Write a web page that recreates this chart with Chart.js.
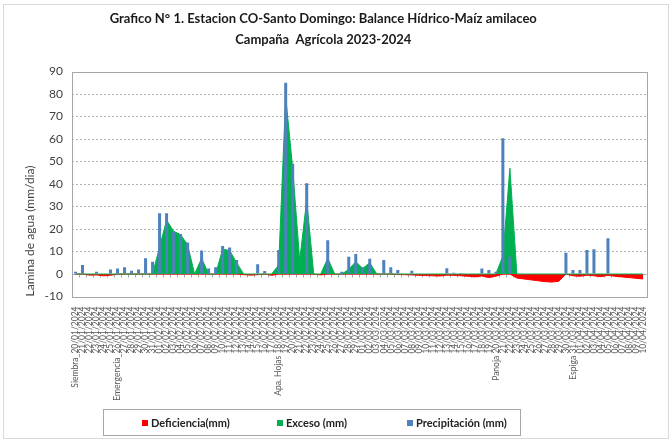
<!DOCTYPE html>
<html>
<head>
<meta charset="utf-8">
<title>Balance Hídrico - Maíz amilaceo</title>
<script src="https://cdn.jsdelivr.net/npm/chart.js@4.4.1/dist/chart.umd.min.js"></script>
<style>
  html, body { margin: 0; padding: 0; background: #fff; }
  #wrap { position: relative; width: 672px; height: 441px; }
  #frame { position: absolute; left: 3px; top: 4px; width: 664px; height: 433px; border: 1px solid #d9d9d9; pointer-events: none; }
  #legend { position: absolute; left: 103px; top: 409px; width: 416px; height: 25px; border: 1px solid #a6a6a6; font: bold 11px Lato, sans-serif; color: #222; }
  .item { position: absolute; top: 6px; line-height: 13px; white-space: nowrap; }
  .sw { display: inline-block; width: 6px; height: 6px; margin-right: 3px; vertical-align: 1px; }
</style>
</head>
<body>
<div id="wrap">
  <canvas id="chart" width="672" height="441"></canvas>
  <div id="frame"></div>
  <div id="legend"></div>
</div>
<script>
// ── Data (mm/día, one value per day) ─────────────────────────────
const labels = [
  'Siembra_20/01/2024', '21/01/2024', '22/01/2024', '23/01/2024', '24/01/2024', '25/01/2024',
  'Emergencia_26/01/2024', '27/01/2024', '28/01/2024', '29/01/2024', '30/01/2024', '31/01/2024',
  '01/02/2024', '02/02/2024', '03/02/2024', '04/02/2024', '05/02/2024', '06/02/2024', '07/02/2024',
  '08/02/2024', '09/02/2024', '10/02/2024', '11/02/2024', '12/02/2024', '13/02/2024', '14/02/2024',
  '15/02/2024', '16/02/2024', '17/02/2024', 'Apa. Hojas 18/02/2024', '19/02/2024', '20/02/2024',
  '21/02/2024', '22/02/2024', '23/02/2024', '24/02/2024', '25/02/2024', '26/02/2024', '27/02/2024',
  '28/02/2024', '29/02/2024', '01/03/2024', '02/03/2024', '03/03/2024', '04/03/2024', '05/03/2024',
  '06/03/2024', '07/03/2024', '08/03/2024', '09/03/2024', '10/03/2024', '11/03/2024', '12/03/2024',
  '13/03/2024', '14/03/2024', '15/03/2024', '16/03/2024', '17/03/2024', '18/03/2024', '19/03/2024',
  'Panoja 20/03/2024', '21/03/2024', '22/03/2024', '23/03/2024', '24/03/2024', '25/03/2024',
  '26/03/2024', '27/03/2024', '28/03/2024', '29/03/2024', '30/03/2024', 'Espiga 31/03/2024',
  '01/04/2024', '02/04/2024', '03/04/2024', '04/04/2024', '05/04/2024', '06/04/2024', '07/04/2024',
  '08/04/2024', '09/04/2024', '10/04/2024'
];

const precipitacion = [
  1, 4, 0, 1, 0, 2, 2.5, 3, 1.5, 2,
  7, 5.5, 27, 27, 18.8, 17.8, 14, 0, 10.4, 2.5,
  3, 12.4, 11.8, 6.2, 0, 0, 4.3, 1.3, 0, 10.7,
  85, 49, 0, 40.3, 0, 0, 15, 0, 1, 7.7,
  8.9, 3, 6.8, 0, 6.2, 3, 1.8, 0, 1.5, 0,
  0, 0, 0, 2.6, 0.6, 0.5, 0, 0, 2.5, 1.8,
  1, 60.3, 7.7, 0, 0, 0, 0, 0, 0, 0,
  9.5, 1.8, 1.8, 10.7, 11, 0, 15.9, 0, 0, 0,
  0, 0
];

const exceso = [
  0, 0, 0, 0, 0, 0, 0, 0, 0, 0,
  0, 0, 12, 24, 19, 17.5, 13, 0, 7, 0,
  0, 11, 10.5, 5, 0, 0, 0, 0, 0, 4,
  79, 47, 6, 33, 0, 0, 7, 0, 0, 2,
  5.5, 2.5, 5, 0, 0, 0, 0, 0, 0, 0,
  0, 0, 0, 0, 0, 0, 0, 0, 0, 0,
  0, 8, 47, 0, 0, 0, 0, 0, 0, 0,
  0, 0, 0, 0, 0, 0, 0, 0, 0, 0,
  0, 0
];

const deficiencia = [
  0, 0, -0.5, -0.4, -0.8, -0.6, 0, 0, 0, 0,
  0, 0, 0, 0, 0, 0, 0, 0, 0, 0,
  0, 0, 0, 0, -0.3, -0.5, -0.3, 0, -0.6, 0,
  0, 0, 0, 0, 0, -0.4, 0, 0, 0, 0,
  0, 0, 0, 0, 0, 0, -0.2, -0.3, -0.4, -0.6,
  -0.7, -0.8, -0.9, -0.5, -0.6, -0.8, -1.0, -1.3, -0.9, -1.6,
  -1.0, 0, 0, -1.8, -2.2, -2.6, -3.0, -3.4, -3.6, -3.2,
  0, -0.8, -1.0, -0.5, -0.8, -1.2, -0.6, -1.0, -1.3, -1.6,
  -1.9, -2.2
];

const Y_MIN = -10, Y_MAX = 90, Y_STEP = 10;

const COLORS = { deficiencia: '#ff0000', exceso: '#00b050', precipitacion: '#4f81bd' };
const SERIES_NAMES = ['Deficiencia(mm)', 'Exceso (mm)', 'Precipitación (mm)'];

// ── Plot frame + zero axis with tick marks ───────────────────────
const plotFrame = {
  id: 'plotFrame',
  beforeDatasetsDraw(chart) {
    const { ctx, chartArea: a, scales: { x, y } } = chart;
    const y0 = Math.round(y.getPixelForValue(0)) + 0.5;
    const half = (x.getPixelForValue(1) - x.getPixelForValue(0)) / 2;
    ctx.save();
    ctx.strokeStyle = '#a6a6a6';
    ctx.lineWidth = 1;
    ctx.beginPath();
    ctx.moveTo(a.left, y0);
    ctx.lineTo(a.right, y0);
    for (let i = 0; i <= labels.length; i++) {
      const px = Math.round(x.getPixelForValue(i) - half) + 0.5;
      ctx.moveTo(px, y0);
      ctx.lineTo(px, y0 + 3);
    }
    ctx.stroke();
    ctx.restore();
  },
  afterDraw(chart) {
    const { ctx, chartArea: a } = chart;
    ctx.save();
    ctx.strokeStyle = '#a6a6a6';
    ctx.lineWidth = 1;
    ctx.strokeRect(Math.round(a.left) + 0.5, Math.round(a.top) + 0.5,
      Math.round(a.right - a.left), Math.round(a.bottom - a.top));
    ctx.restore();
  }
};

const area = (label, data, color, order) => ({
  type: 'line',
  label,
  data,
  borderColor: color,
  backgroundColor: color,
  borderWidth: 1,
  pointRadius: 0,
  tension: 0,
  fill: 'origin',
  order,
});

const chart = new Chart(document.getElementById('chart').getContext('2d'), {
  data: {
    labels,
    datasets: [
      area(SERIES_NAMES[0], deficiencia, COLORS.deficiencia, 2),
      area(SERIES_NAMES[1], exceso, COLORS.exceso, 1),
      {
        type: 'bar',
        label: SERIES_NAMES[2],
        data: precipitacion,
        backgroundColor: COLORS.precipitacion,
        barPercentage: 0.43,
        categoryPercentage: 1,
        order: 0,
      },
    ],
  },
  options: {
    responsive: false,
    animation: false,
    layout: { padding: { left: 0, right: 25.5, top: 0, bottom: 40.5 } },
    plugins: {
      legend: { display: false },
      tooltip: { enabled: false },
      title: {
        display: true,
        text: ['Grafico N° 1. Estacion CO-Santo Domingo: Balance Hídrico-Maíz amilaceo', 'Campaña  Agrícola 2023-2024'],
        color: '#1a1a1a',
        font: { family: 'Lato', size: 13, weight: 'bold', lineHeight: 1.6 },
        padding: { top: 8.6, bottom: 21.3 },
      },
    },
    scales: {
      x: {
        grid: { display: false },
        border: { display: false },
        ticks: {
          autoSkip: false,
          maxRotation: 90,
          minRotation: 90,
          padding: 2,
          color: '#595959',
          font: { family: 'Lato', size: 8.5 },
        },
        afterFit: s => { s.height = 104; },
      },
      y: {
        min: Y_MIN,
        max: Y_MAX,
        ticks: {
          stepSize: Y_STEP,
          padding: 9,
          color: '#404040',
          font: { family: 'Lato', size: 12 },
        },
        grid: {
          drawTicks: false,
          color: c => (c.tick && [0, Y_MIN, Y_MAX].includes(c.tick.value)) ? 'rgba(0,0,0,0)' : '#b3b3b3',
        },
        border: { display: false, dash: [2, 2] },
        title: {
          display: true,
          text: 'Lamina de agua (mm/dia)',
          align: 'start',
          color: '#404040',
          font: { family: 'Lato', size: 12 },
          padding: { top: 22.8, bottom: 0 },
        },
        afterFit: s => { s.width = 72; },
      },
    },
  },
  plugins: [plotFrame],
});

// ── Legend (HTML) ────────────────────────────────────────────────
const legendEl = document.getElementById('legend');
const legendLeft = [38, 173, 303];
chart.data.datasets.forEach((ds, i) => {
  const item = document.createElement('div');
  item.className = 'item';
  item.style.left = legendLeft[i] + 'px';
  const sw = document.createElement('span');
  sw.className = 'sw';
  sw.style.background = ds.backgroundColor;
  item.appendChild(sw);
  item.appendChild(document.createTextNode(ds.label));
  legendEl.appendChild(item);
});
</script>
</body>
</html>
